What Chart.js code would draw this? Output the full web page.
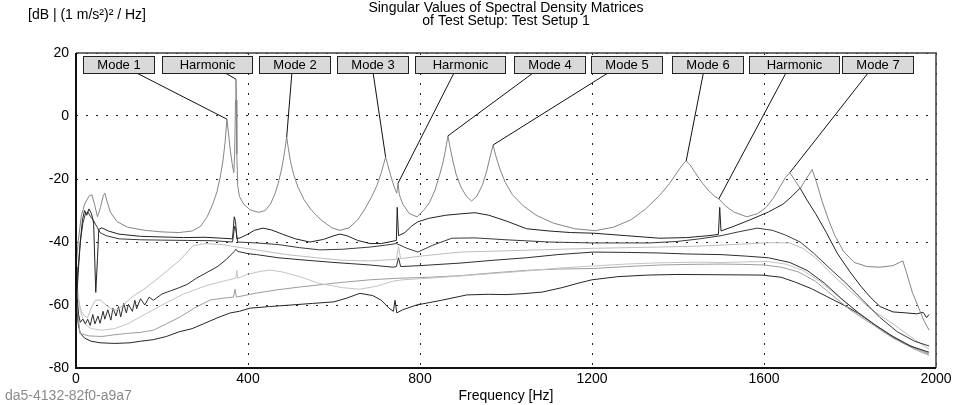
<!DOCTYPE html>
<html>
<head>
<meta charset="utf-8">
<script src="https://cdn.jsdelivr.net/npm/chart.js@4.4.1/dist/chart.umd.min.js"></script>
<style>
  html, body { margin: 0; padding: 0; background: #fff; }
  canvas { display: block; }
</style>
</head>
<body>
<canvas id="myChart" width="955" height="405"></canvas>
<script>
// Eixos
const xTicks = [0, 400, 800, 1200, 1600, 2000];
const yTicks = [-80, -60, -40, -20, 0, 20];

// Valores singulares [Hz, dB]
const sv1 = [[0,-48],[5,-40],[12,-32],[20,-28],[30,-25.5],[37,-25],[43,-28],[50,-32],[57,-29],[63,-25.5],[67,-24.5],[72,-27],[80,-30.5],[95,-33.5],[120,-35.3],[160,-36.3],[200,-36.8],[240,-37],[270,-36.5],[290,-35],[305,-32],[318,-28],[328,-24],[336,-19],[342,-14],[347,-8],[351,-1],[355,-6],[359,-11],[363,-15],[367,-18],[369,-12],[371,5],[372,11.7],[373,5],[374,-12],[376,-22],[380,-25.5],[390,-28],[405,-29.8],[425,-30.6],[440,-30],[452,-28],[462,-25],[470,-21.5],[477,-17.5],[482,-14],[486,-10.5],[490,-6.7],[494,-10.5],[499,-14.5],[506,-18.5],[516,-22.5],[530,-26.5],[548,-30],[570,-33],[595,-35.5],[614,-36.3],[635,-35.5],[655,-33],[672,-29.5],[688,-25.5],[700,-22],[710,-18],[716,-15],[720,-13],[725,-15.5],[732,-19],[740,-22.5],[746,-24.5],[749,-21.3],[752,-25],[760,-28],[775,-31],[793,-32],[808,-30],[822,-27.5],[835,-23.5],[845,-19],[853,-15],[859,-11],[865,-6.3],[870,-10],[876,-14],[884,-18.5],[895,-22.5],[908,-25.5],[920,-27],[932,-25.5],[945,-22],[955,-17.5],[963,-13],[970,-9.2],[976,-12.5],[985,-16.5],[998,-21],[1015,-25],[1040,-28.5],[1070,-31.5],[1110,-34],[1160,-35.8],[1207,-36.4],[1250,-35.3],[1290,-33],[1325,-29.5],[1355,-25.5],[1380,-21.5],[1400,-17.5],[1412,-15.2],[1419,-14.3],[1428,-15.5],[1440,-18],[1455,-21],[1470,-23.5],[1485,-25.5],[1495,-26.3],[1510,-28.5],[1530,-30.5],[1560,-32],[1585,-31],[1605,-29],[1622,-26],[1637,-22.5],[1650,-19.5],[1660,-18],[1670,-20],[1684,-23],[1698,-20],[1712,-17],[1722,-21],[1735,-27],[1750,-33],[1765,-38],[1785,-43],[1810,-46.5],[1840,-47.8],[1870,-48],[1900,-47.5],[1915,-46.5],[1923,-46],[1932,-50],[1945,-56],[1960,-61],[1972,-65],[1984,-68]];
const sv2 = [[0,-62],[5,-50],[10,-40],[15,-33],[20,-30],[25,-31.5],[30,-29.5],[36,-31],[41,-34],[46,-56],[50,-45],[53,-36],[60,-35.5],[75,-36.5],[100,-37.5],[150,-38.2],[200,-38.4],[250,-38.6],[300,-38.5],[340,-38.8],[364,-39],[368,-32],[371,-33.5],[374,-39],[385,-38.5],[400,-37.5],[415,-36.3],[435,-35.6],[455,-36.2],[480,-37.5],[510,-39],[544,-40],[575,-39.2],[600,-38],[614,-37.5],[630,-38],[655,-39.5],[684,-40.5],[710,-40.5],[735,-39.8],[745,-39.5],[747,-29],[750,-38],[765,-37],[780,-35],[795,-33.6],[820,-32.5],[860,-31.5],[900,-31],[928,-30.7],[960,-31.5],[1000,-33.3],[1048,-35.8],[1100,-36.5],[1150,-37],[1203,-37.2],[1280,-38],[1358,-38.8],[1420,-38.6],[1470,-38],[1494,-37.6],[1497,-29],[1500,-36.5],[1530,-35],[1567,-33],[1610,-30.5],[1644,-28],[1665,-25.5],[1684,-22.9],[1700,-26.7],[1720,-31],[1745,-37],[1770,-43.5],[1800,-49.5],[1825,-54],[1847,-57.5],[1870,-60.5],[1900,-62.2],[1930,-62.5],[1955,-62.8],[1970,-62.3],[1978,-64],[1984,-63]];
const sv3 = [[0,-58],[5,-48],[10,-40],[16,-34],[22,-31],[28,-30.5],[34,-32],[40,-33],[48,-35],[56,-37],[70,-38],[100,-39],[150,-39.3],[200,-39.4],[260,-39.5],[320,-39.6],[364,-40],[369,-35],[372,-36],[376,-40],[420,-40.3],[470,-40.8],[520,-41.8],[567,-42.5],[620,-42.3],[684,-41.6],[720,-41],[745,-40.5],[770,-42],[795,-43.2],[830,-41],[874,-38.8],[928,-38.7],[1000,-39.3],[1100,-40],[1200,-40.3],[1335,-40.3],[1400,-39.8],[1450,-39],[1500,-38],[1540,-36.8],[1584,-35.6],[1620,-36.3],[1650,-37.8],[1684,-40],[1715,-43.5],[1750,-48],[1790,-53],[1830,-58.5],[1870,-64],[1910,-68.5],[1950,-71.5],[1984,-73]];
const sv4 = [[0,-52],[5,-58],[12,-62],[20,-63.5],[27,-64],[35,-61],[45,-58.5],[56,-58.4],[70,-60],[85,-61.5],[95,-61.6],[110,-60],[130,-57.5],[165,-54.3],[200,-50.5],[242,-45.7],[260,-43],[272,-41.2],[300,-40.5],[340,-40.8],[374,-41.6],[420,-42.5],[490,-44],[560,-45],[620,-45.8],[684,-46],[745,-45.5],[750,-41.5],[755,-45.3],[800,-44.5],[893,-43.2],[1000,-42.8],[1100,-42.4],[1203,-42],[1280,-41.8],[1358,-41.6],[1450,-41.3],[1500,-41],[1560,-40.6],[1610,-40.2],[1660,-40.3],[1690,-42],[1720,-45],[1760,-50.5],[1800,-55.5],[1850,-61.5],[1900,-66],[1950,-71],[1984,-74]];
const sv5 = [[0,-48],[3,-58],[6,-63],[10,-65.5],[16,-64.5],[22,-66],[27,-64.5],[33,-66.5],[39,-63],[44,-66],[51,-63.5],[56,-65.8],[63,-62],[67,-64.5],[74,-61.5],[81,-64.8],[86,-61],[93,-63.5],[99,-60.5],[104,-63.8],[111,-59.5],[117,-62.5],[122,-59.8],[131,-62],[137,-58.5],[141,-61.2],[150,-58],[160,-60],[170,-57.5],[180,-58.5],[200,-56.5],[220,-55.5],[240,-54.5],[258,-53.5],[280,-51.5],[300,-50],[328,-47.9],[350,-45.5],[368,-43],[372,-42.3],[376,-43],[400,-43.7],[420,-44],[470,-45],[528,-45.7],[600,-46.5],[684,-47.3],[738,-48],[745,-47.8],[750,-45],[755,-47.8],[800,-47.5],[893,-46.7],[970,-45.8],[1048,-45],[1120,-44],[1203,-43.2],[1280,-43.3],[1358,-43.5],[1420,-43.8],[1500,-44],[1560,-44.5],[1610,-45],[1660,-46.5],[1700,-49],[1740,-53],[1780,-58],[1820,-62.5],[1860,-66.5],[1900,-70],[1940,-73],[1984,-75]];
const sv6 = [[0,-45],[4,-55],[10,-62],[20,-66],[35,-67.5],[60,-68],[90,-67.5],[120,-66],[160,-63],[200,-60],[250,-56.5],[300,-54],[340,-52.5],[372,-51.5],[374,-49],[376,-51.5],[400,-50.2],[430,-49.3],[451,-48.9],[480,-49.5],[520,-51],[567,-53.2],[620,-54.5],[660,-55],[700,-54],[738,-52.4],[760,-52],[820,-51.5],[893,-50.8],[970,-50],[1048,-49.2],[1120,-48.3],[1203,-47.6],[1280,-47],[1358,-46.6],[1450,-46.4],[1500,-46.5],[1560,-46.3],[1610,-46.2],[1650,-47],[1690,-49],[1730,-52.5],[1770,-57],[1810,-61.5],[1850,-65.5],[1900,-70],[1950,-73.5],[1984,-75.5]];
const sv7 = [[0,-50],[4,-62],[9,-69],[30,-69.8],[60,-70],[87,-69.5],[120,-69],[150,-68.7],[180,-68],[210,-66],[242,-63.8],[275,-61],[312,-58.4],[345,-57.8],[366,-57.5],[370,-55],[373,-57.5],[420,-56.2],[467,-55.2],[520,-54.3],[567,-53.6],[620,-52.8],[684,-52],[750,-51.5],[820,-51.2],[893,-50.7],[970,-49.8],[1048,-49],[1120,-48.6],[1203,-48.4],[1280,-47.8],[1358,-47.3],[1430,-47.1],[1500,-47],[1550,-47.1],[1600,-47.3],[1640,-48],[1680,-49.5],[1720,-52.5],[1760,-57],[1800,-61.5],[1850,-66],[1900,-70.5],[1950,-74],[1984,-76]];
const sv8 = [[0,-48],[2,-60],[5,-66],[10,-69],[20,-70.5],[35,-71.5],[56,-72],[90,-72.2],[126,-72],[150,-71.5],[180,-71],[210,-70],[240,-68.5],[270,-67.5],[296,-66],[330,-64],[359,-62.5],[380,-62],[405,-61],[450,-60.5],[500,-60],[550,-59.5],[600,-59],[630,-57.8],[660,-56.3],[690,-57],[710,-58.5],[728,-61],[738,-62],[742,-58.5],[746,-62.5],[760,-61.5],[792,-60],[850,-58.5],[909,-56.8],[960,-56.6],[1000,-56.7],[1040,-56.4],[1084,-55.9],[1130,-54.5],[1170,-53],[1200,-52],[1260,-51],[1330,-50.5],[1400,-50.3],[1500,-50.4],[1595,-50.5],[1640,-51.2],[1672,-52.7],[1710,-54.8],[1749,-57.5],[1785,-60],[1819,-62.6],[1860,-66.5],[1898,-70],[1940,-73],[1984,-75.5]];

const seriesList = [sv1, sv2, sv3, sv4, sv5, sv6, sv7, sv8];
const seriesColors = ['#858585', '#222222', '#3a3a3a', '#bdbdbd', '#2e2e2e', '#c4c4c4', '#9c9c9c', '#262626'];

// Marcadores dos picos
const labelNames = ['Mode 1', 'Harmonic', 'Mode 2', 'Mode 3', 'Harmonic', 'Mode 4', 'Mode 5', 'Mode 6', 'Harmonic', 'Mode 7'];
const labelLeftHz = [16, 200, 426, 607, 788, 1019, 1198, 1386, 1565, 1781];
const leaderFromHz = [141, 347, 502, 691, 879, 1063, 1237, 1459, 1651, 1842];
const peakHz = [351, 372, 490, 720, 749, 865, 970, 1419, 1495, 1660];
const peakDb = [-1, 11.7, -6.7, -13, -21.3, -6.3, -9.2, -14.3, -26.3, -18];

const FONT = '"Liberation Sans", Arial, sans-serif';

const decor = {
    id: 'decor',
    beforeDraw(chart) {
        const c = chart.ctx;
        c.save();
        c.fillStyle = '#fff';
        c.fillRect(0, 0, chart.width, chart.height);
        c.restore();
    },
    afterDatasetsDraw(chart) {
        const c = chart.ctx;
        const a = chart.chartArea;
        const xs = chart.scales.x, ys = chart.scales.y;
        c.save();
        // moldura
        c.lineWidth = 1.5;
        c.strokeStyle = '#404040';
        c.beginPath();
        c.moveTo(a.left, a.top); c.lineTo(a.right, a.top); c.lineTo(a.right, a.bottom);
        c.stroke();
        c.lineWidth = 2;
        c.strokeStyle = '#111';
        c.beginPath();
        c.moveTo(a.left, a.top); c.lineTo(a.left, a.bottom); c.lineTo(a.right, a.bottom);
        c.stroke();

        const boxTop = a.top + 3, boxH = 17;
        // linhas de chamada
        c.lineWidth = 1;
        c.strokeStyle = '#111';
        for (let i = 0; i < labelNames.length; i++) {
            c.beginPath();
            c.moveTo(xs.getPixelForValue(leaderFromHz[i]), boxTop + boxH);
            c.lineTo(xs.getPixelForValue(peakHz[i]), ys.getPixelForValue(peakDb[i]));
            c.stroke();
        }
        // caixas
        c.font = '13px ' + FONT;
        c.textAlign = 'center';
        c.textBaseline = 'middle';
        for (let i = 0; i < labelNames.length; i++) {
            const x = Math.round(xs.getPixelForValue(labelLeftHz[i])) + 0.5;
            const w = labelNames[i] === 'Harmonic' ? 90 : 71;
            c.fillStyle = '#d9d9d9';
            c.fillRect(x, boxTop + 0.5, w, boxH);
            c.strokeStyle = '#222';
            c.strokeRect(x, boxTop + 0.5, w, boxH);
            c.fillStyle = '#000';
            c.fillText(labelNames[i], x + w / 2, boxTop + boxH / 2 + 1);
        }

        // textos
        c.font = '14px ' + FONT;
        c.fillStyle = '#000';
        c.textAlign = 'center';
        const cx = (a.left + a.right) / 2;
        c.fillText('Singular Values of Spectral Density Matrices', cx, 8);
        c.fillText('of Test Setup: Test Setup 1', cx, 21);
        c.fillText('Frequency [Hz]', cx, 396);
        c.textAlign = 'left';
        c.fillText('[dB | (1 m/s\u00b2)\u00b2 / Hz]', 28, 15);
        c.fillStyle = '#8a8a8a';
        c.fillText('da5-4132-82f0-a9a7', 5, 396);
        c.restore();
    }
};

const ctx = document.getElementById('myChart').getContext('2d');
new Chart(ctx, {
    type: 'line',
    data: {
        datasets: seriesList.map((s, i) => ({
            data: s.map(p => ({ x: p[0], y: p[1] })),
            borderColor: seriesColors[i],
            borderWidth: 1,
            pointRadius: 0,
            tension: 0,
            fill: false
        }))
    },
    options: {
        responsive: false,
        animation: false,
        devicePixelRatio: 1,
        layout: { padding: { top: 53, right: 19, left: 0, bottom: 0 } },
        plugins: { legend: { display: false }, tooltip: { enabled: false } },
        scales: {
            x: {
                type: 'linear',
                min: 0,
                max: 2000,
                afterBuildTicks: s => { s.ticks = xTicks.map(v => ({ value: v })); },
                afterFit: s => { s.height = 37; },
                ticks: { color: '#000', font: { family: FONT, size: 14 }, padding: 3, maxRotation: 0, autoSkip: false, callback: v => String(v) },
                grid: { color: '#222', lineWidth: 1, drawTicks: false },
                border: { display: false, dash: [2, 8] }
            },
            y: {
                type: 'linear',
                min: -80,
                max: 20,
                afterBuildTicks: s => { s.ticks = yTicks.map(v => ({ value: v })); },
                afterFit: s => { s.width = 76; },
                ticks: { color: '#000', font: { family: FONT, size: 14 }, padding: 7, autoSkip: false, callback: v => String(v) },
                grid: { color: '#222', lineWidth: 1, drawTicks: false },
                border: { display: false, dash: [2, 8] }
            }
        }
    },
    plugins: [decor]
});
</script>
</body>
</html>
